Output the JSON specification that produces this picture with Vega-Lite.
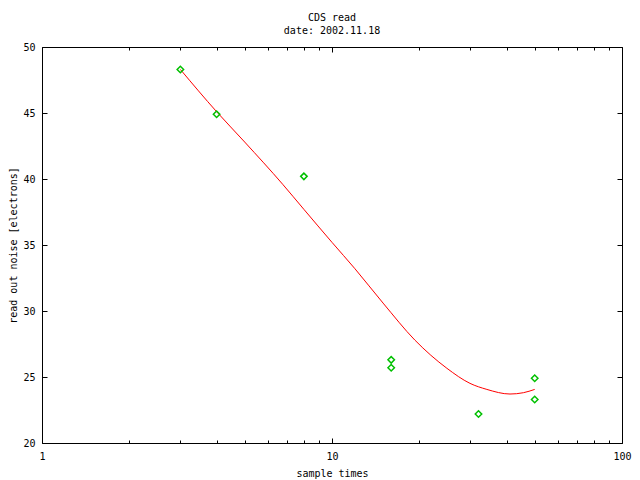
{
  "$schema": "https://vega.github.io/schema/vega-lite/v6.json",
  "width": 580,
  "height": 396,
  "autosize": "none",
  "padding": {"left": 42, "top": 47, "right": 18, "bottom": 37},
  "background": "white",
  "title": {
    "text": ["CDS read", "date: 2002.11.18"],
    "font": "DejaVu Sans Mono",
    "fontSize": 10,
    "fontWeight": "normal",
    "lineHeight": 13,
    "color": "black",
    "anchor": "middle",
    "offset": 6
  },
  "config": {
    "view": {"stroke": "black", "strokeWidth": 1},
    "axis": {
      "grid": false,
      "domainColor": "black",
      "tickColor": "black",
      "labelFont": "DejaVu Sans Mono",
      "labelFontSize": 10,
      "labelColor": "black",
      "titleFont": "DejaVu Sans Mono",
      "titleFontSize": 10,
      "titleFontWeight": "normal",
      "titleColor": "black"
    }
  },
  "datasets": {
    "fit": [
      {"t": 3.0, "noise": 48.3},
      {"t": 4.0, "noise": 45.1},
      {"t": 5.0, "noise": 42.8},
      {"t": 6.76, "noise": 39.6},
      {"t": 8.0, "noise": 37.7},
      {"t": 10.0, "noise": 35.2},
      {"t": 12.0, "noise": 33.2},
      {"t": 15.0, "noise": 30.6},
      {"t": 19.3, "noise": 27.8},
      {"t": 24.9, "noise": 25.66},
      {"t": 29.9, "noise": 24.52},
      {"t": 34.2, "noise": 24.06},
      {"t": 41.1, "noise": 23.71},
      {"t": 45.7, "noise": 23.81},
      {"t": 50.0, "noise": 24.06}
    ],
    "meas": [
      {"t": 3, "noise": 48.3},
      {"t": 4, "noise": 44.9},
      {"t": 8, "noise": 40.2},
      {"t": 16, "noise": 26.3},
      {"t": 16, "noise": 25.7},
      {"t": 32, "noise": 22.2},
      {"t": 50, "noise": 24.9},
      {"t": 50, "noise": 23.3}
    ]
  },
  "resolve": {"axis": {"x": "independent", "y": "independent"}},
  "layer": [
    {
      "data": {"name": "fit"},
      "mark": {"type": "line", "color": "#ff0000", "strokeWidth": 1, "interpolate": "monotone"},
      "encoding": {
        "x": {
          "field": "t", "type": "quantitative",
          "scale": {"type": "log", "domain": [1, 100], "nice": false},
          "axis": {"orient": "bottom", "values": [1, 10, 100], "tickSize": -5, "labelPadding": 13, "title": "sample times", "titlePadding": 7, "labelFlush": false, "domain": false}
        },
        "y": {
          "field": "noise", "type": "quantitative",
          "scale": {"domain": [20, 50], "nice": false, "zero": false},
          "axis": {"orient": "left", "values": [20, 25, 30, 35, 40, 45, 50], "tickSize": -5, "labelPadding": 12, "title": "read out noise [electrons]", "titlePadding": 4, "domain": false}
        }
      }
    },
    {
      "data": {"name": "meas"},
      "mark": {"type": "point", "shape": "diamond", "filled": false, "color": "#00c000", "size": 42, "strokeWidth": 1.5, "opacity": 1},
      "encoding": {
        "x": {
          "field": "t", "type": "quantitative",
          "scale": {"type": "log", "domain": [1, 100], "nice": false},
          "axis": {"orient": "top", "values": [1, 10, 100], "tickSize": -5, "labels": false, "title": null, "domain": false}
        },
        "y": {
          "field": "noise", "type": "quantitative",
          "scale": {"domain": [20, 50], "nice": false, "zero": false},
          "axis": {"orient": "right", "values": [20, 25, 30, 35, 40, 45, 50], "tickSize": -5, "labels": false, "title": null, "domain": false}
        }
      }
    },
    {
      "data": {"name": "meas"},
      "mark": {"type": "point", "opacity": 0},
      "encoding": {
        "x": {
          "field": "t", "type": "quantitative",
          "scale": {"type": "log", "domain": [1, 100], "nice": false},
          "axis": {"orient": "bottom", "values": [2, 3, 4, 5, 6, 7, 8, 9, 20, 30, 40, 50, 60, 70, 80, 90], "tickSize": -3, "labels": false, "title": null, "domain": false}
        },
        "y": {"field": "noise", "type": "quantitative", "scale": {"domain": [20, 50], "nice": false, "zero": false}, "axis": null}
      }
    },
    {
      "data": {"name": "meas"},
      "mark": {"type": "point", "opacity": 0},
      "encoding": {
        "x": {
          "field": "t", "type": "quantitative",
          "scale": {"type": "log", "domain": [1, 100], "nice": false},
          "axis": {"orient": "top", "values": [2, 3, 4, 5, 6, 7, 8, 9, 20, 30, 40, 50, 60, 70, 80, 90], "tickSize": -3, "labels": false, "title": null, "domain": false}
        },
        "y": {"field": "noise", "type": "quantitative", "scale": {"domain": [20, 50], "nice": false, "zero": false}, "axis": null}
      }
    }
  ]
}
